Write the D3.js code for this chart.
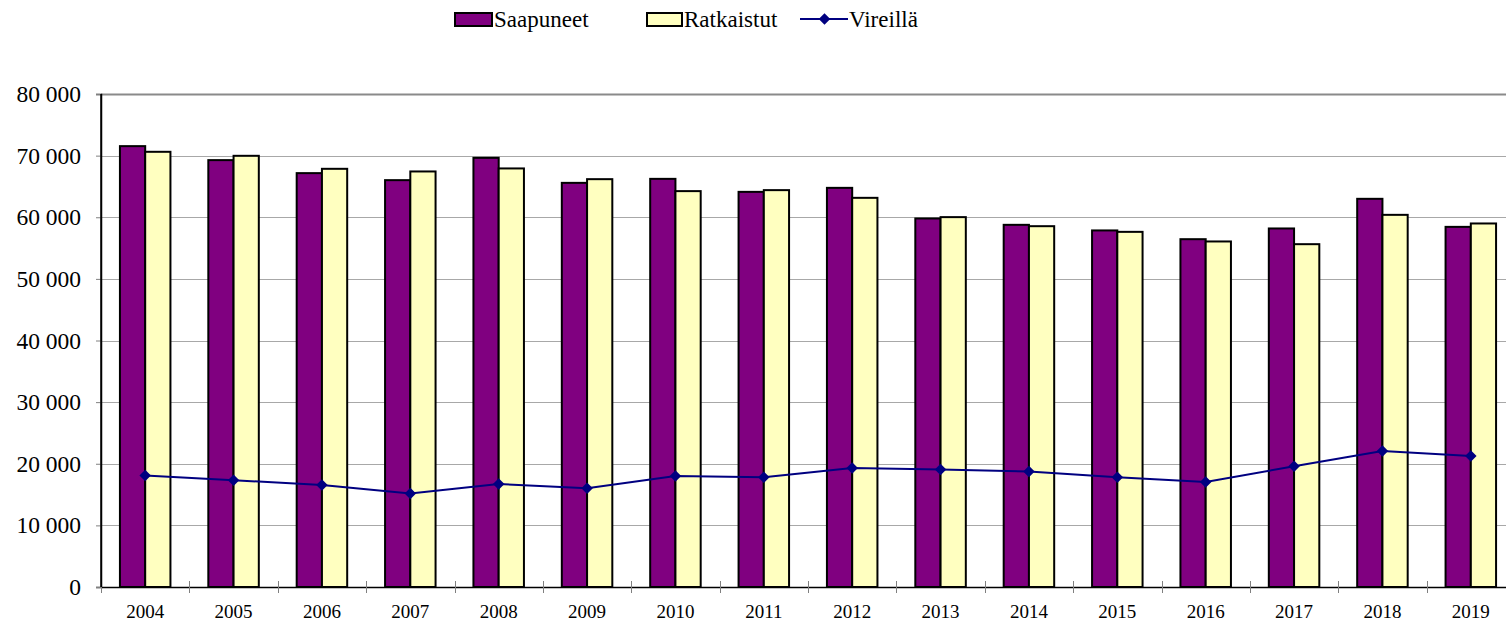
<!DOCTYPE html>
<html>
<head>
<meta charset="utf-8">
<script src="https://cdn.jsdelivr.net/npm/d3@7"></script>
<style>
  html, body { margin: 0; padding: 0; background: #fff; }
  svg { display: block; }
</style>
</head>
<body>
<svg id="chart" width="1506" height="622"></svg>
<script>
const years = ["2004","2005","2006","2007","2008","2009","2010","2011","2012","2013","2014","2015","2016","2017","2018","2019"];
const saapuneet = [71540, 69270, 67160, 66020, 69640, 65580, 66230, 64120, 64770, 59800, 58770, 57860, 56440, 58180, 62990, 58440];
const ratkaistut = [70620, 69970, 67860, 67430, 67920, 66180, 64240, 64400, 63150, 60020, 58550, 57630, 56070, 55630, 60390, 58990];
const vireilla = [18080, 17320, 16560, 15160, 16720, 16020, 18020, 17810, 19320, 19060, 18730, 17810, 17050, 19590, 22080, 21270];
const yTicks = [0, 10000, 20000, 30000, 40000, 50000, 60000, 70000, 80000];
const seriesNames = ["Saapuneet", "Ratkaistut"];
const seriesColors = ["#800080", "#FFFFC0"];
const lineName = "Vireillä";
const lineColor = "#000080";

(function () {
const FONT = "serif";
const svg = d3.select("#chart");
const mLeft = 101, mRight = 1515, mTop = 94, mBottom = 587;

const x = d3.scaleBand().domain(years).range([mLeft, mRight]).paddingInner(0).paddingOuter(0);
const x1 = d3.scaleBand().domain(seriesNames).range([0, x.bandwidth()]).paddingInner(0).paddingOuter(0.75);
const y = d3.scaleLinear().domain([0, 80000]).range([mBottom, mTop]);

const fmt = v => d3.format(",")(v).replace(/,/g, " ");

// gridlines
svg.append("g").selectAll("line").data(yTicks.filter(d => d > 0)).join("line")
  .attr("x1", mLeft).attr("x2", mRight)
  .attr("y1", d => Math.round(y(d)) + 0.5).attr("y2", d => Math.round(y(d)) + 0.5)
  .attr("stroke", d => d === 80000 ? "#8a8a8a" : "#a8a8a8")
  .attr("stroke-width", d => d === 80000 ? 2 : 1);

// y axis
const yAxis = d3.axisLeft(y).tickValues(yTicks).tickFormat(fmt).tickSize(5).tickPadding(15);
const gy = svg.append("g").attr("transform", `translate(${mLeft},0)`).call(yAxis);
gy.select(".domain").attr("stroke", "#000").attr("stroke-width", 1.5);
gy.selectAll(".tick line").attr("stroke", "#808080");
gy.selectAll(".tick text").style("font-family", FONT).style("font-size", "23.5px").attr("fill", "#000");

// bars
const data = years.map((yr, i) => ({ year: yr, values: [saapuneet[i], ratkaistut[i]] }));
const groups = svg.append("g").selectAll("g").data(data).join("g")
  .attr("transform", d => `translate(${x(d.year)},0)`);
groups.selectAll("rect").data(d => d.values.map((v, j) => ({ key: seriesNames[j], v, j }))).join("rect")
  .attr("x", d => x1(d.key))
  .attr("width", x1.bandwidth())
  .attr("y", d => y(d.v))
  .attr("height", d => y(0) - y(d.v))
  .attr("fill", d => seriesColors[d.j])
  .attr("stroke", "#000")
  .attr("stroke-width", 2);

// x axis
const xAxis = d3.axisBottom(x).tickSize(0).tickPadding(18);
const gx = svg.append("g").attr("transform", `translate(0,${mBottom})`).call(xAxis);
gx.select(".domain").attr("stroke", "#000").attr("stroke-width", 1.5);
gx.selectAll(".tick text").style("font-family", FONT).style("font-size", "19px").attr("fill", "#000");
gx.append("g").selectAll("line").data(years).join("line")
  .attr("x1", d => Math.round(x(d)) + 0.5).attr("x2", d => Math.round(x(d)) + 0.5)
  .attr("y1", d => d === years[0] ? 0 : -6).attr("y2", 6)
  .attr("stroke", "#808080");

// line series
const line = d3.line().x((d, i) => x(years[i]) + x.bandwidth() / 2).y(d => y(d));
svg.append("path").datum(vireilla).attr("d", line)
  .attr("fill", "none").attr("stroke", lineColor).attr("stroke-width", 2);
const diamond = d3.symbol().type(d3.symbolDiamond2).size(85);
svg.append("g").selectAll("path").data(vireilla).join("path")
  .attr("transform", (d, i) => `translate(${x(years[i]) + x.bandwidth() / 2},${y(d)})`)
  .attr("d", diamond).attr("fill", lineColor);

svg.append("line").attr("x1", mLeft).attr("x2", mLeft).attr("y1", mTop).attr("y2", mBottom)
  .attr("stroke", "#000").attr("stroke-width", 1.5);

// legend
const legend = svg.append("g");
const legendItems = [
  { name: seriesNames[0], type: "rect", color: seriesColors[0], x: 455, tx: 494 },
  { name: seriesNames[1], type: "rect", color: seriesColors[1], x: 647, tx: 684 },
  { name: lineName, type: "line", color: lineColor, x: 800, tx: 849 }
];
legendItems.forEach(it => {
  if (it.type === "rect") {
    legend.append("rect").attr("x", it.x).attr("y", 13).attr("width", it.tx - it.x - 2).attr("height", 13)
      .attr("fill", it.color).attr("stroke", "#000").attr("stroke-width", 2);
  } else {
    legend.append("line").attr("x1", it.x).attr("x2", it.tx - 1).attr("y1", 19).attr("y2", 19)
      .attr("stroke", it.color).attr("stroke-width", 2);
    legend.append("path").attr("transform", `translate(${(it.x + it.tx) / 2},19)`)
      .attr("d", diamond).attr("fill", it.color);
  }
  legend.append("text").attr("x", it.tx).attr("y", 27)
    .style("font-family", FONT).style("font-size", "23px").attr("fill", "#000").text(it.name);
});
})();
</script>
</body>
</html>
